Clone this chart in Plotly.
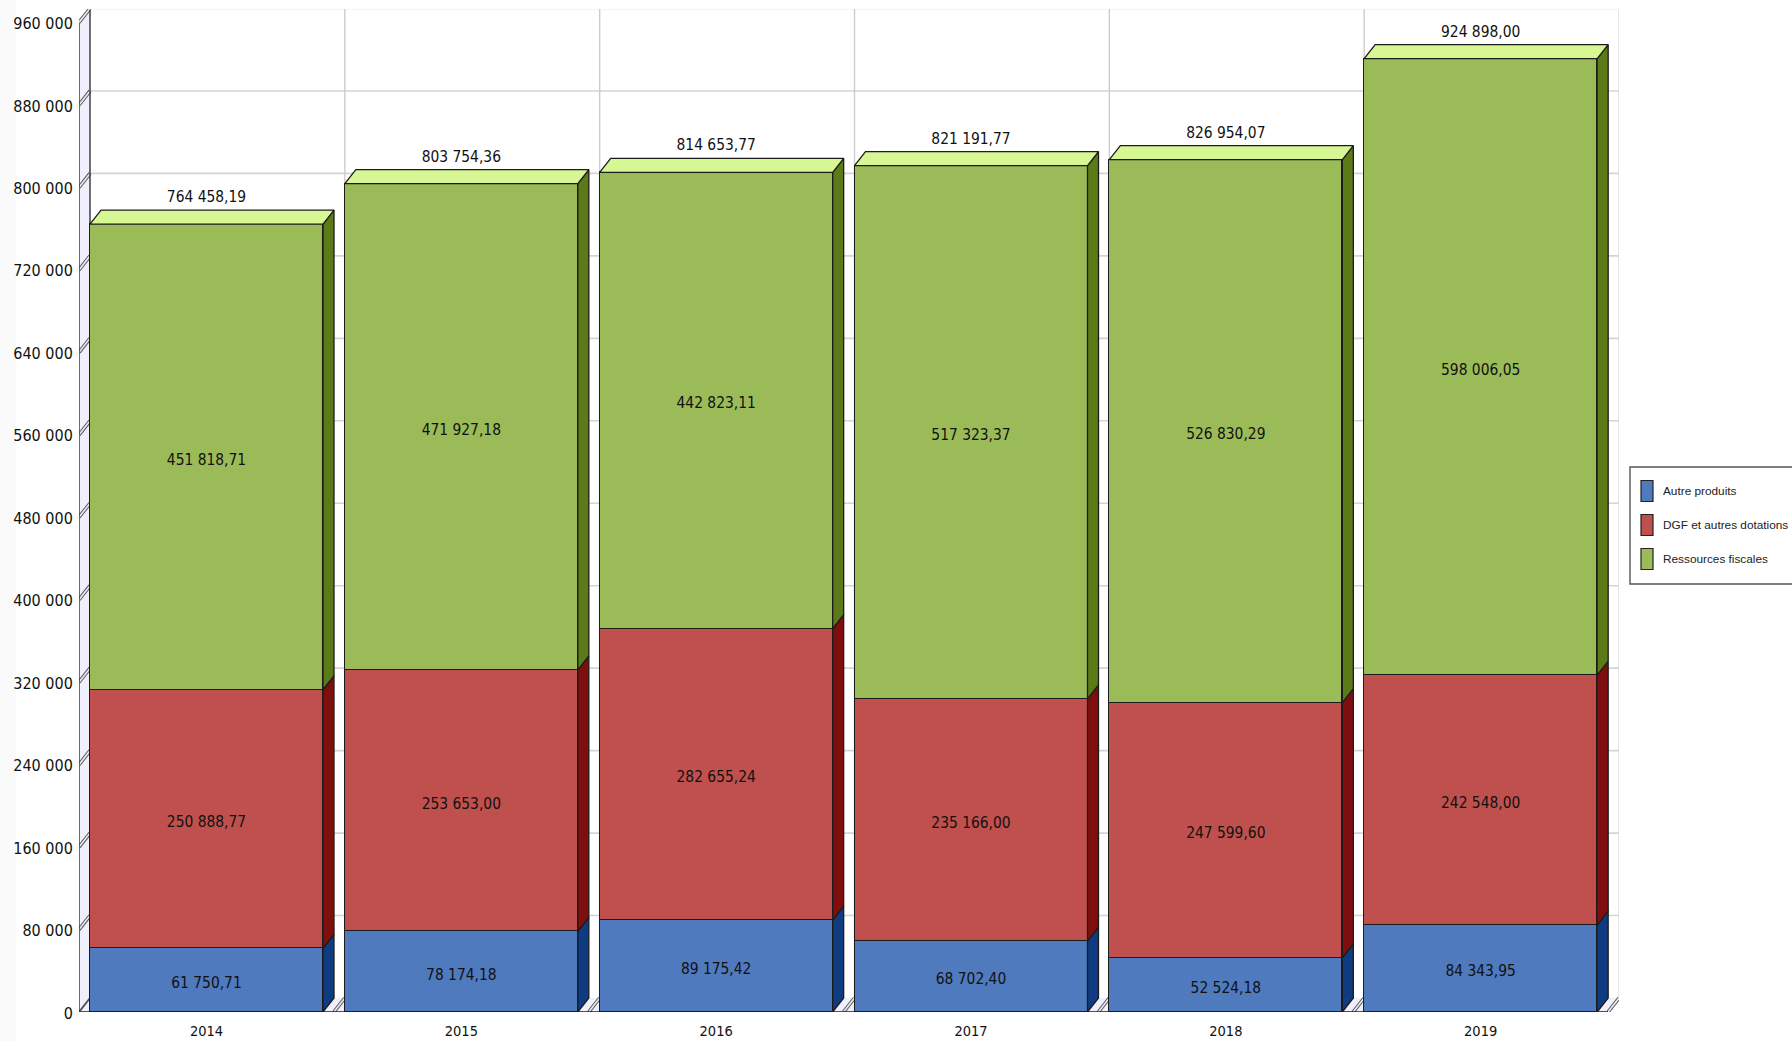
import plotly.graph_objects as go

# ---------- data ----------
years = ["2014", "2015", "2016", "2017", "2018", "2019"]
autre_produits = [61750.71, 78174.18, 89175.42, 68702.40, 52524.18, 84343.95]
dgf_dotations = [250888.77, 253653.00, 282655.24, 235166.00, 247599.60, 242548.00]
ressources_fiscales = [451818.71, 471927.18, 442823.11, 517323.37, 526830.29, 598006.05]
totals = [764458.19, 803754.36, 814653.77, 821191.77, 826954.07, 924898.00]
y_ticks = [0, 80000, 160000, 240000, 320000, 400000, 480000, 560000, 640000, 720000, 800000, 880000, 960000]

series = [
    ("Autre produits", autre_produits, "#4F7ABD", "#0F3B80"),
    ("DGF et autres dotations", dgf_dotations, "#C0504D", "#7F0F0F"),
    ("Ressources fiscales", ressources_fiscales, "#9BBB59", "#5C7A17"),
]

# ---------- geometry (pixels -> axis units) ----------
W, H = 1792, 1041
L, R, T, B = 79, 1619, 9, 1012
SLOT = 254.83
PX_Y = 989.5 / 960000
DEPTH_X = 11 / SLOT
DEPTH_Y = 14 / PX_Y
BAR_W = 233 / SLOT
x_range = [-DEPTH_X, 6]
y_range = [0, (B - T) / PX_Y]
y_max_front = y_ticks[-1]
x_end = 6
n = len(years)


def fr_num(v, dec=2):
    s = f"{v:,.{dec}f}".replace(",", " ").replace(".", ",")
    return s


def px(xpix):
    return (xpix - L) / (R - L)


def py(ypix):
    return (B - ypix) / (B - T)


FONT = "DejaVu Sans Condensed, DejaVu Sans, sans-serif"
LEGEND_FONT = "Liberation Sans, Arial, sans-serif"
DARK = "#1c1c1c"
GRID = "#d4d4d4"
WALL = "#EFEFFD"

shapes = []
# pale strip on the page's left edge and bottom
shapes.append(dict(type="rect", xref="paper", yref="paper", x0=px(0), x1=px(16), y0=py(H), y1=py(0),
                   fillcolor="#FAFAFA", line_width=0, layer="below"))

# floor and left wall
shapes.append(dict(type="path", xref="x", yref="y", layer="below", fillcolor=WALL, line=dict(width=0),
                   path=f"M {-DEPTH_X} 0 L 0 {DEPTH_Y} L {x_end} {DEPTH_Y} L {x_end-DEPTH_X} 0 Z"))
shapes.append(dict(type="path", xref="x", yref="y", layer="below", fillcolor=WALL, line=dict(width=0),
                   path=f"M {-DEPTH_X} 0 L 0 {DEPTH_Y} L 0 {y_max_front+DEPTH_Y} L {-DEPTH_X} {y_max_front} Z"))

# back wall grid
for t in y_ticks[1:]:
    shapes.append(dict(type="line", xref="x", yref="y", layer="below", x0=0, x1=x_end,
                       y0=t + DEPTH_Y, y1=t + DEPTH_Y, line=dict(color=GRID, width=1.6)))
for i in range(1, n + 1):
    shapes.append(dict(type="line", xref="x", yref="y", layer="below", x0=i, x1=i,
                       y0=DEPTH_Y, y1=y_max_front + DEPTH_Y,
                       line=dict(color="#cccccc" if i < n else "#dcdcdc", width=1.4)))

# double-stroked depth ticks on the wall and the floor
for t in y_ticks:
    wt = 2.8 if t else 1.2
    shapes.append(dict(type="line", xref="x", yref="y", layer="below", x0=-DEPTH_X, x1=0,
                       y0=t, y1=t + DEPTH_Y, line=dict(color="#555555", width=wt + 0.8)))
    if t:
        shapes.append(dict(type="line", xref="x", yref="y", layer="below", x0=-DEPTH_X, x1=0,
                           y0=t, y1=t + DEPTH_Y, line=dict(color="#e8e8f0", width=1.7)))
for i in range(1, n + 1):
    shapes.append(dict(type="line", xref="x", yref="y", layer="below", x0=i - DEPTH_X, x1=i,
                       y0=0, y1=DEPTH_Y, line=dict(color="#555555", width=3.6)))
    shapes.append(dict(type="line", xref="x", yref="y", layer="below", x0=i - DEPTH_X, x1=i,
                       y0=0, y1=DEPTH_Y, line=dict(color="#e8e8f0", width=1.7)))

# wall edges and base
shapes.append(dict(type="line", xref="x", yref="y", layer="below", x0=-DEPTH_X, x1=-DEPTH_X,
                   y0=0, y1=y_max_front, line=dict(color="#333333", width=1.4)))
shapes.append(dict(type="line", xref="x", yref="y", layer="below", x0=0, x1=0,
                   y0=DEPTH_Y, y1=y_max_front + DEPTH_Y * 0.9, line=dict(color="#333333", width=1.4)))
shapes.append(dict(type="line", xref="x", yref="y", layer="above", x0=-DEPTH_X, x1=x_end - DEPTH_X,
                   y0=0, y1=0, line=dict(color=DARK, width=1.4)))

# legend box
shapes.append(dict(type="rect", xref="paper", yref="paper", x0=px(1630), x1=px(1800), y0=py(584), y1=py(467),
                   fillcolor="white", line=dict(color="#555555", width=1.4)))
annotations = []
for i, (name, _, col, _) in enumerate(series):
    yc = 491 + i * 34
    shapes.append(dict(type="rect", xref="paper", yref="paper", x0=px(1641), x1=px(1653),
                       y0=py(yc + 10.5), y1=py(yc - 10.5), fillcolor=col, line=dict(color="#222222", width=1.2)))
    annotations.append(dict(xref="paper", yref="paper", x=px(1663), y=py(yc), text=name, showarrow=False,
                            xanchor="left", yanchor="middle", xshift=-2,
                            font=dict(family=LEGEND_FONT, size=11.8, color="#222222")))

fig = go.Figure()
xs = list(range(n))
base = [0.0] * n
lx, ly, lt = [], [], []
for name, vals, col, side in series:
    labels = [fr_num(v) for v in vals]
    fig.add_trace(go.Bar(x=xs, y=vals, name=name, width=BAR_W, offset=0, marker=dict(color=col, line=dict(color=DARK, width=1.5)),
                         customdata=labels, hovertemplate="%{customdata}<extra>" + name + "</extra>", showlegend=False))
    px_side, py_side = [], []
    for i in range(n):
        x1 = xs[i] + BAR_W
        y0, y1 = base[i], base[i] + vals[i]
        px_side += [x1, x1 + DEPTH_X, x1 + DEPTH_X, x1, x1, None]
        py_side += [y0, y0 + DEPTH_Y, y1 + DEPTH_Y, y1, y0, None]
        lx.append(xs[i] + BAR_W / 2)
        ly.append((y0 + y1) / 2 - 4 / PX_Y)
        lt.append(labels[i])
        base[i] = y1
    fig.add_trace(go.Scatter(x=px_side, y=py_side, mode="lines", fill="toself", fillcolor=side,
                             line=dict(color=DARK, width=1.3), hoverinfo="skip", showlegend=False))

# top faces
tx, ty = [], []
for i in range(n):
    x0, x1, y1 = xs[i], xs[i] + BAR_W, totals[i]
    tx += [x0, x0 + DEPTH_X, x1 + DEPTH_X, x1, x0, None]
    ty += [y1, y1 + DEPTH_Y, y1 + DEPTH_Y, y1, y1, None]
fig.add_trace(go.Scatter(x=tx, y=ty, mode="lines", fill="toself", fillcolor="#D7F794",
                         line=dict(color=DARK, width=1.3), hoverinfo="skip", showlegend=False))

# value labels centred on each segment
fig.add_trace(go.Scatter(x=lx, y=ly, mode="text", text=lt, textposition="middle center",
                         textfont=dict(family=FONT, size=15.4, color="#111111"), hoverinfo="skip", showlegend=False))

# totals above the stacks
fig.add_trace(go.Scatter(x=[x + BAR_W / 2 for x in xs], y=[t + DEPTH_Y + 4 / PX_Y for t in totals], mode="text",
                         text=[fr_num(t) for t in totals], textposition="top center",
                         textfont=dict(family=FONT, size=15.4, color="#111111"), hoverinfo="skip", showlegend=False, cliponaxis=False))

fig.update_layout(
    width=W, height=H, autosize=False, barmode="stack", bargap=0,
    margin=dict(l=L, r=W - R, t=T, b=H - B, pad=0),
    paper_bgcolor="white", plot_bgcolor="white", showlegend=False,
    shapes=shapes, annotations=annotations,
    xaxis=dict(range=x_range, tickmode="array", tickvals=[x + BAR_W / 2 for x in xs], ticktext=years, automargin=False,
               showgrid=False, zeroline=False, showline=False, ticks="outside", ticklen=6,
               tickcolor="rgba(0,0,0,0)", tickfont=dict(family=FONT, size=14.5, color="#111111")),
    yaxis=dict(range=y_range, tickmode="array", tickvals=y_ticks, ticktext=[fr_num(t, 0) for t in y_ticks], automargin=False,
               showgrid=False, zeroline=False, showline=False, ticks="outside", ticklen=2, ticklabelshift=1,
               tickcolor="rgba(0,0,0,0)", tickfont=dict(family=FONT, size=16, color="#111111")),
)

fig.write_html("out.html", config=dict(displayModeBar=False),
               post_script="document.body.style.margin='0';document.documentElement.style.overflow='hidden';")
